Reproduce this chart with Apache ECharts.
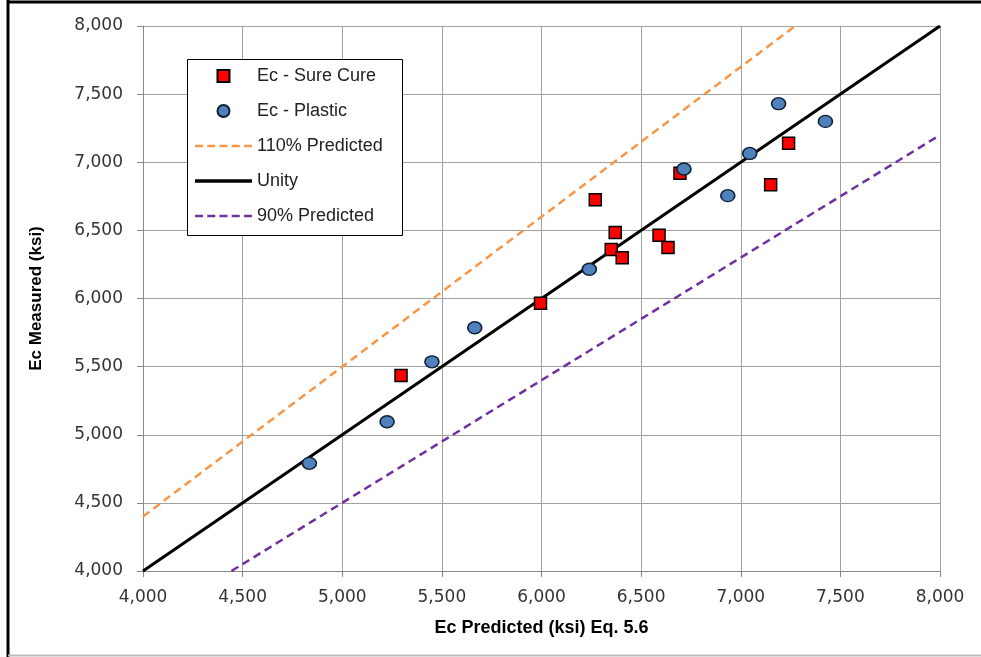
<!DOCTYPE html>
<html>
<head>
<meta charset="utf-8">
<script src="https://cdn.jsdelivr.net/npm/echarts@6/dist/echarts.min.js"></script>
<style>
html,body{margin:0;padding:0;background:#fff;}
#chart{width:981px;height:657px;}
</style>
</head>
<body>
<div id="chart"></div>
<script>
// ---- data ----
var sureCureX = [5295, 5995, 6270, 6370, 6350, 6405, 6590, 6635, 6695, 7150, 7240];
var sureCureY = [5435, 5965, 6725, 6485, 6360, 6300, 6465, 6375, 6920, 6835, 7140];
var plasticX = [4835, 5225, 5450, 5665, 6240, 6715, 6935, 7045, 7190, 7425];
var plasticY = [4790, 5095, 5535, 5785, 6215, 6950, 6755, 7065, 7430, 7300];
var upperX = [4000, 7273];
var upperY = [4400, 8000];
var unityX = [4000, 8000];
var unityY = [4000, 8000];
var lowerX = [4444, 8000];
var lowerY = [4000, 7200];
var axisMin = 4000, axisMax = 8000, axisStep = 500;
var seriesNames = ['Ec - Sure Cure', 'Ec - Plastic', '110% Predicted', 'Unity', '90% Predicted'];
var xTitle = 'Ec Predicted (ksi) Eq. 5.6';
var yTitle = 'Ec Measured (ksi)';

function pairs(xs, ys) { return xs.map(function (x, i) { return [x, ys[i]]; }); }
function fmt(v) { return String(v).replace(/\B(?=(\d{3})+(?!\d))/g, ','); }

var dashIcon = 'path://M0,0h8v2.5h-8z M12.25,0h8v2.5h-8z M24.5,0h8v2.5h-8z M36.75,0h8v2.5h-8z M49,0h8v2.5h-8z';
var solidIcon = 'path://M0,0h57v3.5h-57z';

var chart = echarts.init(document.getElementById('chart'), null, {renderer: 'canvas'});
var tickFont = {fontFamily: 'DejaVu Sans', fontSize: 17, color: '#333'};
var gridColor = '#A0A0A0';

var option = {
  animation: false,
  backgroundColor: '#fff',
  grid: {left: 143, right: 41, top: 26, bottom: 86},
  xAxis: {
    type: 'value', min: axisMin, max: axisMax, interval: axisStep,
    name: xTitle, nameLocation: 'middle', nameGap: 48,
    nameTextStyle: {fontFamily: 'Liberation Sans', fontWeight: 'bold', fontSize: 18, color: '#000'},
    axisLine: {show: true, lineStyle: {color: '#888', width: 1}},
    axisTick: {show: true, length: 6, lineStyle: {color: '#888'}},
    axisLabel: Object.assign({margin: 18, formatter: fmt}, tickFont),
    splitLine: {show: true, lineStyle: {color: gridColor, width: 1}}
  },
  yAxis: {
    type: 'value', min: axisMin, max: axisMax, interval: axisStep,
    name: yTitle, nameLocation: 'middle', nameGap: 98, nameRotate: 90,
    nameTextStyle: {fontFamily: 'Liberation Sans', fontWeight: 'bold', fontSize: 17, color: '#000'},
    axisLine: {show: true, lineStyle: {color: '#888', width: 1}},
    axisTick: {show: true, length: 6, lineStyle: {color: '#888'}},
    axisLabel: Object.assign({margin: 20, formatter: fmt}, tickFont),
    splitLine: {show: true, lineStyle: {color: gridColor, width: 1}}
  },
  legend: {
    orient: 'vertical', left: 195, top: 67, padding: 0,
    itemWidth: 57, itemHeight: 12, itemGap: 17, z: 5,
    textStyle: {fontFamily: 'Liberation Sans', fontSize: 18, color: '#222'},
    data: [
      {name: seriesNames[0], icon: 'path://M0,0L10,0L10,10L0,10Z'},
      {name: seriesNames[1], icon: 'circle'},
      {name: seriesNames[2], icon: dashIcon},
      {name: seriesNames[3], icon: solidIcon},
      {name: seriesNames[4], icon: dashIcon}
    ]
  },
  graphic: [
    {type: 'rect', z: 4, shape: {x: 187.5, y: 59.5, width: 215, height: 176},
     style: {fill: '#fff', stroke: '#000', lineWidth: 1}},
    {type: 'line', z: 10, shape: {x1: 8, y1: 2, x2: 981, y2: 2}, style: {stroke: '#000', lineWidth: 3}},
    {type: 'line', z: 10, shape: {x1: 8, y1: 0, x2: 8, y2: 657}, style: {stroke: '#000', lineWidth: 3}},
    {type: 'line', z: 10, shape: {x1: 8, y1: 655.5, x2: 981, y2: 655.5}, style: {stroke: '#BDBDBD', lineWidth: 2}}
  ],
  series: [
    {name: seriesNames[0], type: 'scatter', z: 3, symbol: 'rect', symbolSize: 12,
     itemStyle: {color: '#FF0000', borderColor: '#000', borderWidth: 1.5, opacity: 1},
     data: pairs(sureCureX, sureCureY)},
    {name: seriesNames[1], type: 'scatter', z: 3, symbol: 'circle', symbolSize: [14, 12],
     itemStyle: {color: '#4F81BD', borderColor: '#0F1F33', borderWidth: 1.5, opacity: 1},
     data: pairs(plasticX, plasticY)},
    {name: seriesNames[2], type: 'line', z: 2, symbol: 'none', showSymbol: false,
     lineStyle: {color: '#F79646', width: 2.5, type: [8, 5]}, itemStyle: {color: '#F79646', borderWidth: 0},
     data: pairs(upperX, upperY)},
    {name: seriesNames[3], type: 'line', z: 2, symbol: 'none', showSymbol: false,
     lineStyle: {color: '#000', width: 3}, itemStyle: {color: '#000', borderWidth: 0},
     data: pairs(unityX, unityY)},
    {name: seriesNames[4], type: 'line', z: 2, symbol: 'none', showSymbol: false,
     lineStyle: {color: '#7030A0', width: 2.5, type: [8, 5]}, itemStyle: {color: '#7030A0', borderWidth: 0},
     data: pairs(lowerX, lowerY)}
  ]
};
chart.setOption(option);
</script>
</body>
</html>
